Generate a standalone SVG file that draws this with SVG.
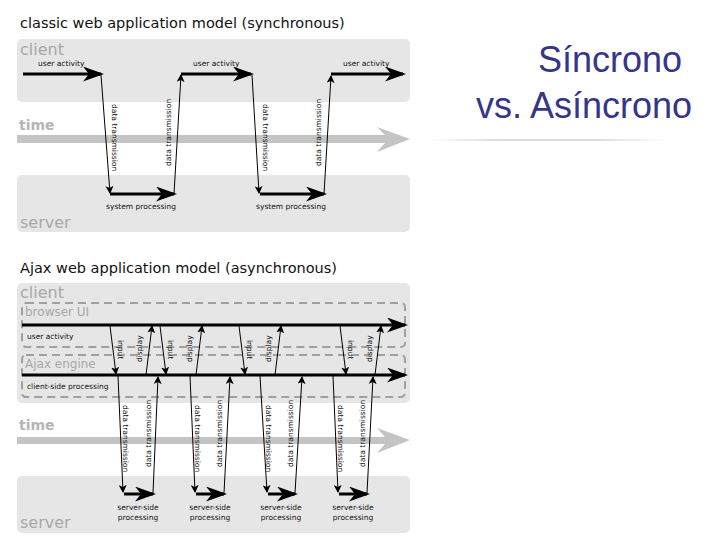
<svg xmlns="http://www.w3.org/2000/svg" width="720" height="540" viewBox="0 0 720 540">
<style>
.panel{fill:#e6e6e6}
.lbl{font-family:"DejaVu Sans",sans-serif;fill:#a8a8a8}
.big{font-size:16px}
.time{font-size:14px;font-weight:bold;fill:#b5b5b5}
.t{font-family:"DejaVu Sans",sans-serif;font-size:7.5px;fill:#111}
.title{font-family:"DejaVu Sans",sans-serif;font-size:14.5px;fill:#111}
.thick{stroke:#000;stroke-width:3;fill:none;marker-end:url(#big)}
.thin{stroke:#000;stroke-width:1;fill:none;marker-end:url(#sm)}
.dash{fill:none;stroke:#a0a0a0;stroke-width:2;stroke-dasharray:8 5}
.head{font-family:"Liberation Sans",sans-serif;font-size:36px;fill:#35358a}
</style>
<defs>
<marker id="big" markerWidth="7" markerHeight="5" refX="6" refY="2.5" orient="auto" markerUnits="strokeWidth"><path d="M0,0 L7,2.5 L0,5 L2,2.5 Z" fill="#000"/></marker>
<marker id="sm" markerWidth="8" markerHeight="8" refX="7" refY="4" orient="auto" markerUnits="userSpaceOnUse"><path d="M0,0 L8,4 L0,8 L2,4 Z" fill="#000"/></marker>
<linearGradient id="fade" x1="0" x2="1"><stop offset="0" stop-color="#fff"/><stop offset="0.3" stop-color="#ddd"/><stop offset="0.7" stop-color="#ddd"/><stop offset="1" stop-color="#fff"/></linearGradient>
</defs>
<rect width="720" height="540" fill="#fff"/>
<g id="heading">
<text class="head" x="682" y="72" text-anchor="end">Síncrono</text>
<text class="head" x="692" y="118" text-anchor="end">vs. Asíncrono</text>
<rect x="425" y="139" width="245" height="2" fill="url(#fade)"/>
</g>
<g id="sync">
<text class="title" x="20" y="28">classic web application model (synchronous)</text>
<rect id="client1" class="panel" x="17" y="39" width="393" height="63" rx="5"/>
<text class="lbl big" x="20" y="55">client</text>
<text class="lbl time" x="19" y="130">time</text>
<path id="time1" d="M17,135 H385 L377,127 L410,139 L377,152 L385,143 H17 Z" fill="#c4c4c4"/>
<rect id="server1" class="panel" x="17" y="175" width="393" height="57" rx="5"/>
<text class="lbl big" x="20" y="228">server</text>
</g>
<g id="connectors-sync">
<line class="thick" x1="23" y1="74" x2="101" y2="74"/>
<line class="thick" x1="181" y1="74" x2="251" y2="74"/>
<line class="thick" x1="331" y1="74" x2="403" y2="74"/>
<line class="thick" x1="110" y1="194" x2="174" y2="194"/>
<line class="thick" x1="260" y1="194" x2="324" y2="194"/>
<line class="thin" x1="101" y1="75" x2="110" y2="193"/>
<line class="thin" x1="174" y1="194" x2="181" y2="75"/>
<line class="thin" x1="252" y1="75" x2="259" y2="193"/>
<line class="thin" x1="324" y1="194" x2="331" y2="76"/>
<text class="t" x="38" y="66">user activity</text>
<text class="t" x="193" y="66">user activity</text>
<text class="t" x="343" y="66">user activity</text>
<text class="t" x="141" y="209" text-anchor="middle">system processing</text>
<text class="t" x="291" y="209" text-anchor="middle">system processing</text>
<text class="t" transform="translate(112,104) rotate(90)">data transmission</text>
<text class="t" transform="translate(171,166) rotate(-90)">data transmission</text>
<text class="t" transform="translate(263,104) rotate(90)">data transmission</text>
<text class="t" transform="translate(321,166) rotate(-90)">data transmission</text>
</g>
<g id="async">
<text class="title" x="20" y="273">Ajax web application model (asynchronous)</text>
<rect id="client2" class="panel" x="17" y="283" width="393" height="120" rx="5"/>
<text class="lbl big" x="20" y="298">client</text>
<rect id="browserUI" class="dash" x="22" y="303" width="383" height="44" rx="4"/>
<text class="lbl" x="25" y="316" font-size="12">browser UI</text>
<rect id="ajaxEngine" class="dash" x="22" y="355" width="383" height="42" rx="4"/>
<text class="lbl" x="25" y="368" font-size="12">Ajax engine</text>
<text class="lbl time" x="19" y="430">time</text>
<path id="time2" d="M17,437 H385 L377,428 L410,440 L377,453 L385,444 H17 Z" fill="#c4c4c4"/>
<rect id="server2" class="panel" x="17" y="476" width="393" height="57" rx="5"/>
<text class="lbl big" x="20" y="528">server</text>
</g>
<g id="connectors-async">
<line class="thick" x1="22" y1="325" x2="405" y2="325"/>
<line class="thick" x1="22" y1="375" x2="405" y2="375"/>
<text class="t" x="27" y="339">user activity</text>
<text class="t" x="27" y="389">client-side processing</text>
<line class="thin" x1="110" y1="326" x2="116" y2="374"/>
<line class="thin" x1="146" y1="375" x2="152" y2="326"/>
<line class="thin" x1="160" y1="326" x2="166" y2="374"/>
<line class="thin" x1="196" y1="375" x2="202" y2="326"/>
<line class="thin" x1="239" y1="326" x2="245" y2="374"/>
<line class="thin" x1="275" y1="375" x2="281" y2="326"/>
<line class="thin" x1="340" y1="326" x2="346" y2="374"/>
<line class="thin" x1="375" y1="375" x2="381" y2="326"/>
<text class="t" transform="translate(118,340) rotate(90)">input</text>
<text class="t" transform="translate(142,362) rotate(-90)">display</text>
<text class="t" transform="translate(168,340) rotate(90)">input</text>
<text class="t" transform="translate(192,362) rotate(-90)">display</text>
<text class="t" transform="translate(247,340) rotate(90)">input</text>
<text class="t" transform="translate(271,362) rotate(-90)">display</text>
<text class="t" transform="translate(348,340) rotate(90)">input</text>
<text class="t" transform="translate(372,362) rotate(-90)">display</text>
<line class="thin" x1="118" y1="376" x2="123" y2="492"/>
<line class="thin" x1="153" y1="493" x2="158" y2="377"/>
<line class="thin" x1="190" y1="376" x2="195" y2="492"/>
<line class="thin" x1="224" y1="493" x2="230" y2="377"/>
<line class="thin" x1="260" y1="376" x2="267" y2="492"/>
<line class="thin" x1="295" y1="493" x2="302" y2="377"/>
<line class="thin" x1="333" y1="376" x2="338" y2="492"/>
<line class="thin" x1="367" y1="493" x2="373" y2="377"/>
<line class="thick" x1="124" y1="494" x2="153" y2="494"/>
<line class="thick" x1="196" y1="494" x2="224" y2="494"/>
<line class="thick" x1="268" y1="494" x2="295" y2="494"/>
<line class="thick" x1="339" y1="494" x2="367" y2="494"/>
<text class="t" transform="translate(123,405) rotate(90)">data transmission</text>
<text class="t" transform="translate(151,467) rotate(-90)">data transmission</text>
<text class="t" transform="translate(195,405) rotate(90)">data transmission</text>
<text class="t" transform="translate(222,467) rotate(-90)">data transmission</text>
<text class="t" transform="translate(266,405) rotate(90)">data transmission</text>
<text class="t" transform="translate(293,467) rotate(-90)">data transmission</text>
<text class="t" transform="translate(338,405) rotate(90)">data transmission</text>
<text class="t" transform="translate(365,467) rotate(-90)">data transmission</text>
<g class="t" text-anchor="middle">
<text x="138" y="510">server-side</text><text x="138" y="520">processing</text>
<text x="210" y="510">server-side</text><text x="210" y="520">processing</text>
<text x="281" y="510">server-side</text><text x="281" y="520">processing</text>
<text x="353" y="510">server-side</text><text x="353" y="520">processing</text>
</g>
</g>
</svg>
